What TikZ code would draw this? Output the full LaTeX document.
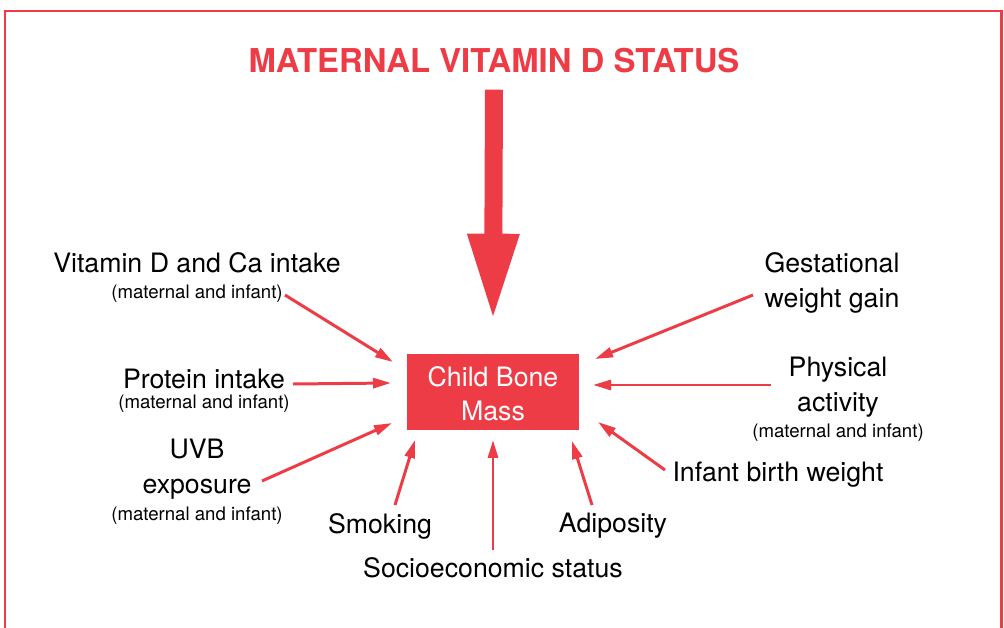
\documentclass[tikz,border=0pt]{standalone}
\usepackage{fontspec}
\setmainfont{TeX Gyre Heros}
\usetikzlibrary{arrows.meta,positioning}
\definecolor{vdred}{RGB}{238,60,70}
\tikzset{
  lbl/.style={font=\fontsize{15.2}{20}\selectfont,align=center,inner sep=0pt},
  sub/.style={font=\fontsize{10.6}{12}\selectfont,inner sep=0pt},
  bone/.style={fill=vdred,text=white,minimum width=3.44cm,minimum height=1.52cm,font=\fontsize{15.2}{19.5}\selectfont,align=center,inner sep=0pt},
  arr/.style={-{Triangle[length=0.36cm,width=0.2cm]},line width=1.7pt,vdred},
  bigarr/.style={-{Triangle[length=1.76cm,width=0.94cm]},line width=0.36cm,vdred},
}

\begin{document}
\begin{tikzpicture}[x=0.02cm,y=-0.02cm]
\useasboundingbox (0,0) rectangle (1004,628);
\draw[vdred,line width=1.7pt] (5,628) -- (5,11) -- (1001,11) -- (1001,628);

\node[font=\fontsize{18.7}{22}\selectfont\bfseries,text=vdred,inner sep=0pt] (title) at (494,61) {MATERNAL VITAMIN D STATUS};
\node[bone] (bone) at (493,392) {};
\node[bone,fill=none] (bonetxt) at (493,394) {Child Bone\\Mass};

% factors on the left
\node[lbl] (vd) at (197,263) {Vitamin D and Ca intake};
\node[sub] (vdsub) at (197,294) {(maternal and infant)};
\node[lbl] (prot) at (204,379) {Protein intake};
\node[sub] (protsub) at (204,404) {(maternal and infant)};
\node[lbl] (uvb) at (197,469) {UVB\\exposure};
\node[sub] (uvbsub) at (197,516) {(maternal and infant)};

% factors below
\node[lbl] (smoke) at (380,526) {Smoking};
\node[lbl] (ses) at (493,568) {Socioeconomic status};
\node[lbl] (adip) at (613,526) {Adiposity};

% factors on the right
\node[lbl] (ibw) at (778,475) {Infant birth weight};
\node[lbl] (phys) at (838,387) {Physical\\activity};
\node[sub] (physsub) at (838,433) {(maternal and infant)};
\node[lbl] (gwg) at (832,283) {Gestational\\weight gain};

% arrow ends
\coordinate (vd-s) at (285,295);   \coordinate (vd-e) at (393,362);
\coordinate (prot-s) at (293,384); \coordinate (prot-e) at (391,383);
\coordinate (uvb-s) at (262,481);  \coordinate (uvb-e) at (392,423);
\coordinate (smoke-s) at (395,505); \coordinate (smoke-e) at (415,440);
\coordinate (ses-s) at (493,550);  \coordinate (ses-e) at (493,440);
\coordinate (adip-s) at (592,505); \coordinate (adip-e) at (572,441);
\coordinate (ibw-s) at (665,470);  \coordinate (ibw-e) at (598,422);
\coordinate (phys-s) at (771,385); \coordinate (phys-e) at (593,385);
\coordinate (gwg-s) at (753,295);  \coordinate (gwg-e) at (595,359);

\draw[bigarr] (title.south) ++(0,16) -- ([yshift=0.64cm]bone.north);
\foreach \f in {vd,prot,uvb,smoke,ses,adip,ibw,phys,gwg}
  \draw[arr] (\f-s) -- (\f-e);
\end{tikzpicture}
\end{document}
